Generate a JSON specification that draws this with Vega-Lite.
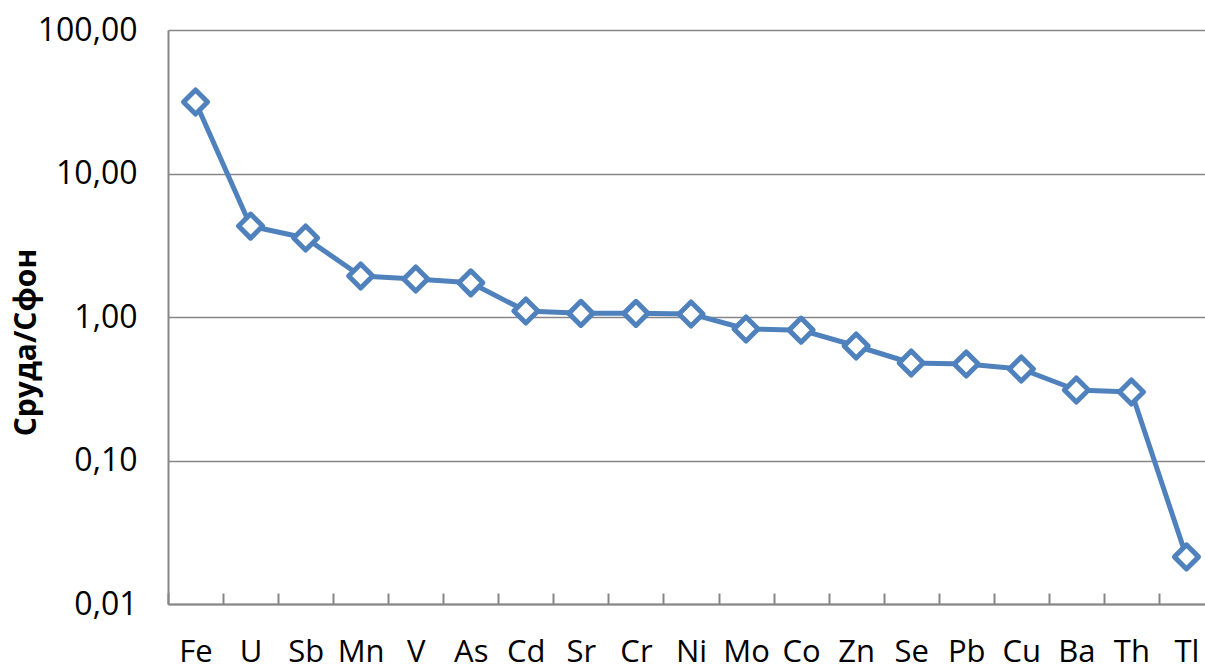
{
  "$schema": "https://vega.github.io/schema/vega-lite/v6.json",
  "autosize": {"type": "none"},
  "width": 1037,
  "height": 574,
  "padding": {"left": 168, "top": 30, "right": 0, "bottom": 62},
  "background": "white",
  "config": {"view": {"stroke": null}},
  "data": {
    "values": [
      {"el": "Fe", "v": 31.5},
      {"el": "U", "v": 4.3},
      {"el": "Sb", "v": 3.55},
      {"el": "Mn", "v": 1.93},
      {"el": "V", "v": 1.84},
      {"el": "As", "v": 1.73},
      {"el": "Cd", "v": 1.1},
      {"el": "Sr", "v": 1.06},
      {"el": "Cr", "v": 1.06},
      {"el": "Ni", "v": 1.05},
      {"el": "Mo", "v": 0.825},
      {"el": "Co", "v": 0.81},
      {"el": "Zn", "v": 0.628},
      {"el": "Se", "v": 0.478},
      {"el": "Pb", "v": 0.47},
      {"el": "Cu", "v": 0.434},
      {"el": "Ba", "v": 0.31},
      {"el": "Th", "v": 0.30},
      {"el": "Tl", "v": 0.0213}
    ]
  },
  "encoding": {
    "x": {
      "field": "el",
      "type": "nominal",
      "sort": null,
      "scale": {"type": "band", "paddingInner": 0, "paddingOuter": 0, "range": [0, 1046]},
      "axis": {
        "title": null,
        "labelAngle": 0,
        "labelFont": "Open Sans",
        "labelFontSize": 31,
        "labelColor": "black",
        "labelPadding": 44,
        "labelBaseline": "top",
        "tickBand": "extent",
        "tickSize": -11,
        "tickColor": "#868686",
        "tickWidth": 2,
        "domainColor": "#868686",
        "domainWidth": 2,
        "grid": false
      }
    },
    "y": {
      "field": "v",
      "type": "quantitative",
      "scale": {"type": "log", "domain": [0.01, 100], "nice": false},
      "axis": {
        "title": "Сруда/Сфон",
        "titleFont": "Open Sans",
        "titleFontWeight": "bold",
        "titleFontSize": 30,
        "titleColor": "black",
        "titleAngle": -90,
        "titleAlign": "center",
        "titleBaseline": "alphabetic",
        "titleX": -133,
        "titleY": 312,
        "values": [0.01, 0.1, 1, 10, 100],
        "labelExpr": "replace(format(datum.value, '.2f'), '.', ',')",
        "labelFont": "Open Sans",
        "labelFontSize": 32,
        "labelColor": "black",
        "labelPadding": 31,
        "ticks": false,
        "grid": true,
        "gridColor": "#868686",
        "gridWidth": 1.5,
        "domainColor": "#868686",
        "domainWidth": 2
      }
    }
  },
  "layer": [
    {
      "mark": {"type": "line", "color": "#4F81BD", "strokeWidth": 5, "strokeJoin": "round"}
    },
    {
      "mark": {
        "type": "point",
        "shape": "diamond",
        "size": 580,
        "filled": true,
        "fill": "white",
        "stroke": "#4F81BD",
        "strokeWidth": 5,
        "strokeJoin": "round",
        "opacity": 1
      }
    }
  ]
}
